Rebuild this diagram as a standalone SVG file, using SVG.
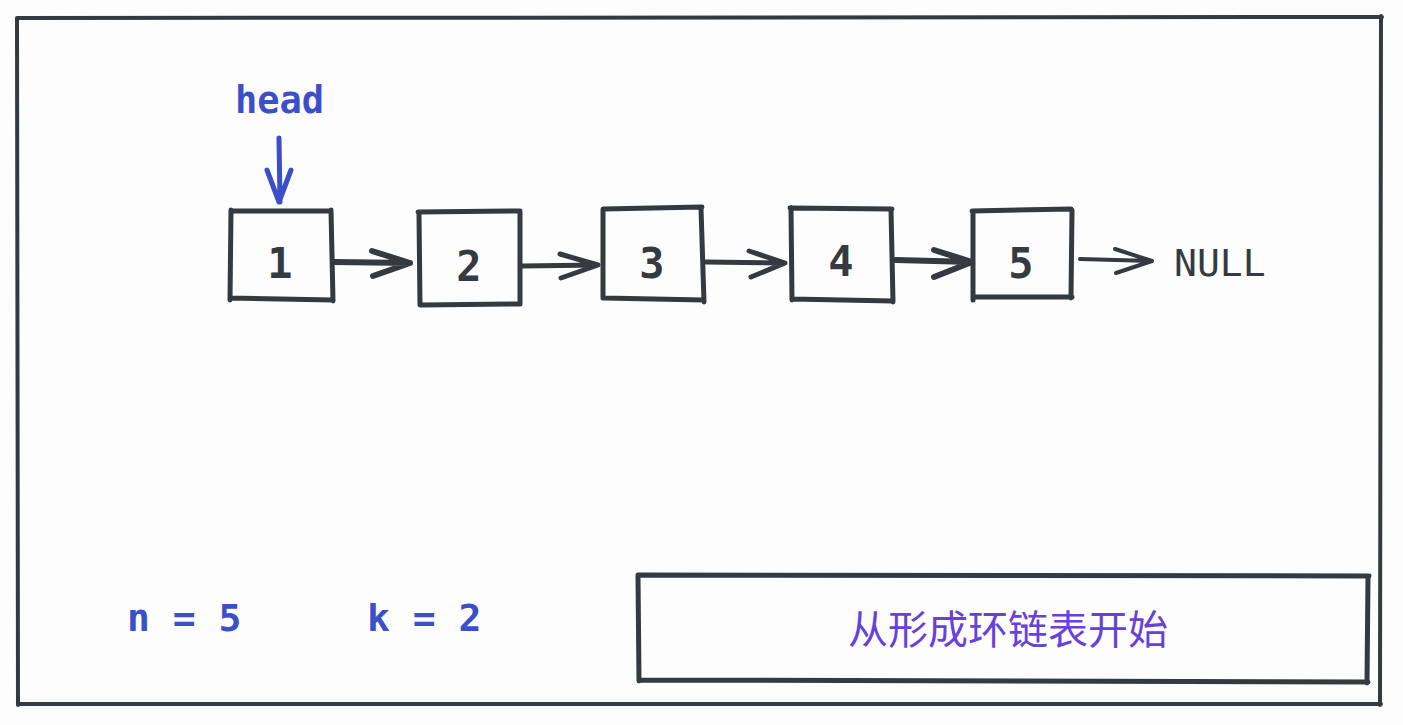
<svg xmlns="http://www.w3.org/2000/svg" width="1403" height="725" viewBox="0 0 1403 725">
<defs>
<style>
.s{fill:none;stroke:#343a40;stroke-width:5;stroke-linecap:round;stroke-linejoin:round}
.n{font-family:"DejaVu Sans Mono","Liberation Mono",monospace;font-size:42px;font-weight:bold;fill:#343a40;text-anchor:middle}
.b{font-family:"DejaVu Sans Mono","Liberation Mono",monospace;font-size:37px;font-weight:bold;fill:#3b4fc8}
</style>
</defs>
<rect width="1403" height="725" fill="#fdfdfd"/>
<g id="frame">
<path class="s" d="M17 18 L1382 17 M1381 16 L1380 705 M1381 704 L18 704 M18 705 L17 18" style="stroke-width:4"/>
</g>
<g id="head">
<text class="b" x="235" y="113">head</text>
</g>
<g id="node1"><path class="s" d="M231 211 L331 211 M331 210 L333 301 M333 300 L230 298 M230 300 L231 210"/><text class="n" x="280" y="278">1</text></g>
<g id="node2"><path class="s" d="M418 212 L520 211 M520 212 L520 304 M520 304 L421 305 M420 305 L419 213"/><text class="n" x="469" y="281">2</text></g>
<g id="node3"><path class="s" d="M603 209 L702 207 M701 208 L704 302 M704 300 L604 298 M603 298 L603 210"/><text class="n" x="652" y="278">3</text></g>
<g id="node4"><path class="s" d="M790 208 L892 209 M891 209 L893 302 M893 301 L792 299 M792 300 L791 208"/><text class="n" x="841" y="276">4</text></g>
<g id="node5"><path class="s" d="M972 211 L1071 209 M1072 210 L1071 298 M1072 297 L973 297 M973 300 L973 212"/><text class="n" x="1021" y="278">5</text></g>
<g id="null"><text x="1174" y="276" style="font-family:'DejaVu Sans Mono',monospace;font-size:38px;fill:#343a40">NULL</text></g>
<g id="connectors">
<path class="s" d="M279 138 L280 202 M267 170 L279 202 L291 170" style="stroke:#3b4fc8;stroke-width:5"/>
<path class="s" d="M334 262 L410 263 M372 251 L410 263 L373 276" style="stroke-width:6"/>
<path class="s" d="M522 266 L598 265 M560 254 L598 265 L561 278"/>
<path class="s" d="M706 262 L785 263 M749 251 L785 263 L751 277"/>
<path class="s" d="M896 260 L972 262 M934 250 L972 262 L934 277" style="stroke-width:6"/>
<path class="s" d="M1080 259 L1152 261 M1115 249 L1152 261 L1116 273" style="stroke-width:4"/>
</g>
<g id="vars">
<text class="b" x="127" y="631" style="font-size:38px">n = 5</text>
<text class="b" x="367" y="631" style="font-size:38px">k = 2</text>
</g>
<g id="banner">
<path class="s" d="M638 575 L1369 576 M1368 576 L1367 683 M1368 682 L640 680 M639 681 L638 576"/>
<text x="1008" y="644" text-anchor="middle" style="font-family:'Noto Sans CJK SC',sans-serif;font-size:40px;fill:#6741d9">从形成环链表开始</text>
</g>
</svg>
